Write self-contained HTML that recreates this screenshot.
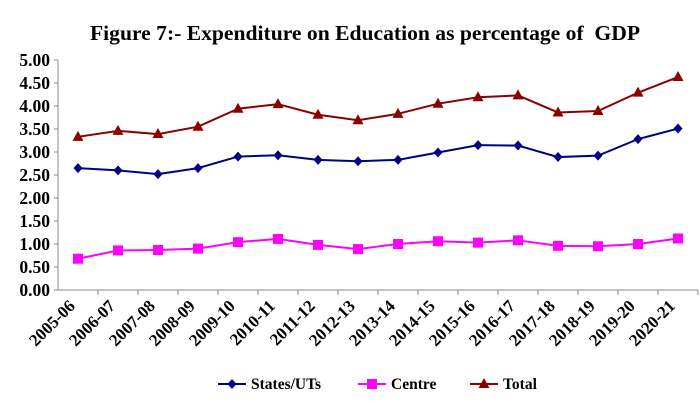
<!DOCTYPE html>
<html><head><meta charset="utf-8"><style>
body{margin:0;background:#fff;font-family:"Liberation Serif",serif;}
svg text{font-family:"Liberation Serif",serif;font-weight:bold;}
</style></head><body>
<svg id="c" width="700" height="405">
<text x="365" y="40" text-anchor="middle" font-size="21.6" xml:space="preserve" style="white-space:pre">Figure 7:- Expenditure on Education as percentage of  GDP</text>
</svg>
<script>
const categories=["2005-06","2006-07","2007-08","2008-09","2009-10","2010-11","2011-12","2012-13","2013-14","2014-15","2015-16","2016-17","2017-18","2018-19","2019-20","2020-21"];
const states=[2.65,2.60,2.52,2.65,2.90,2.93,2.83,2.80,2.83,2.99,3.15,3.14,2.89,2.92,3.28,3.51];
const centre=[0.68,0.86,0.87,0.90,1.04,1.11,0.98,0.89,1.00,1.06,1.03,1.08,0.96,0.95,1.00,1.12];
const total=[3.33,3.46,3.39,3.55,3.94,4.04,3.81,3.69,3.83,4.05,4.19,4.23,3.86,3.89,4.29,4.63];
const yTicks=["0.00","0.50","1.00","1.50","2.00","2.50","3.00","3.50","4.00","4.50","5.00"];
const svg=document.getElementById('c');const NS="http://www.w3.org/2000/svg";
const X0=58,STEP=40,Y0=290,YS=46;
const x=i=>X0+STEP*(i+0.5);const y=v=>Y0-v*YS;
function mk(t,a,p){const e=document.createElementNS(NS,t);for(const k in a)e.setAttribute(k,a[k]);(p||svg).appendChild(e);return e;}
let ax=mk('line',{x1:X0,y1:60,x2:X0,y2:Y0,stroke:'#888'});


let bx=mk('line',{x1:X0,y1:Y0,x2:X0+STEP*categories.length,y2:Y0,stroke:'#888'});


yTicks.forEach(t=>{const v=parseFloat(t);mk('line',{x1:X0-4,x2:X0,y1:y(v),y2:y(v),stroke:'#888'});
const tx=mk('text',{x:X0-8,y:y(v)+6,'text-anchor':'end','font-size':17.5});tx.textContent=t;

});
categories.forEach((c,i)=>{const tx0=X0+STEP*(i+1);mk('line',{x1:tx0,x2:tx0,y1:Y0,y2:Y0+5,stroke:'#888'});
const ax0=x(i)-2,ay0=Y0+17;
const t=mk('text',{x:ax0,y:ay0,'text-anchor':'end','font-size':17,transform:`rotate(-45 ${ax0} ${ay0})`});t.textContent=c;

});
function marker(type,cx,cy,col,g){
 if(type==='d')mk('polygon',{points:`${cx},${cy-5} ${cx+4.5},${cy} ${cx},${cy+5} ${cx-4.5},${cy}`,fill:col},g);
 else if(type==='s')mk('rect',{x:cx-5,y:cy-5,width:10,height:10,fill:col},g);
 else mk('polygon',{points:`${cx},${cy-6} ${cx+5.5},${cy+4} ${cx-5.5},${cy+4}`,fill:col},g);}
function series(data,col,type,name){const g=mk('g',{});


mk('polyline',{points:data.map((v,i)=>x(i)+','+y(v)).join(' '),fill:'none',stroke:col,'stroke-width':2},g);
data.forEach((v,i)=>marker(type,x(i),y(v),col,g));}
series(states,'#000080','d','series-states');
series(centre,'#ff00ff','s','series-centre');
series(total,'#8b0000','t','series-total');
const leg=[["States/UTs",'#000080','d',218],["Centre",'#ff00ff','s',358],["Total",'#8b0000','t',470]];
leg.forEach(l=>{const g=mk('g',{});


mk('line',{x1:l[3],x2:l[3]+28,y1:384,y2:384,stroke:l[1],'stroke-width':2},g);marker(l[2],l[3]+14,384,l[1],g);
const t=mk('text',{x:l[3]+33,y:389,'font-size':15.5},g);t.textContent=l[0];});
</script>
</body></html>
